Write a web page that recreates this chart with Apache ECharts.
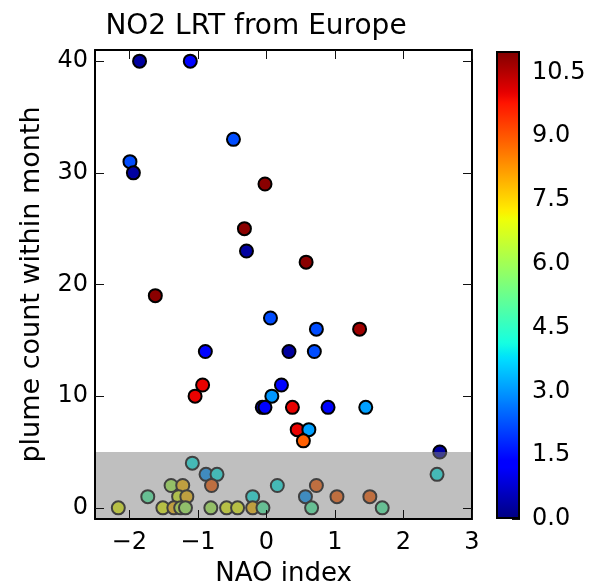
<!DOCTYPE html>
<html>
<head>
<meta charset="utf-8">
<script src="https://cdn.jsdelivr.net/npm/echarts@6/dist/echarts.min.js"></script>
<style>html,body{margin:0;padding:0;background:#fff}#c{width:590px;height:587px}</style>
</head>
<body>
<div id="c"></div>
<script>
// ---- data ----
const naoIndex = [-1.85,-1.11,-0.48,-1.99,-1.94,-0.02,-0.32,-0.29,0.58,-1.62,0.06,0.73,1.36,-0.89,0.33,0.70,-0.93,-1.04,0.22,0.08,-0.06,-0.02,0.38,0.90,1.45,0.45,0.62,0.54,2.53,
  2.49,0.16,0.73,0.57,1.03,1.51,0.66,1.69,-1.08,-0.88,-0.72,-0.80,-1.39,-1.22,-1.73,-1.28,-1.16,-0.20,-2.16,-1.51,-1.35,-1.25,-1.18,-0.81,-0.58,-0.42,-0.20,-0.05];
const plumeCount = [40,40,33,31,30,29,25,23,22,19,17,16,16,14,14,14,11,10,11,10,9,9,9,9,9,7,7,6,5,
  3,2,2,1,1,1,0,0,4,3,3,2,2,2,1,1,1,1,0,0,0,0,0,0,0,0,0,0];
const colorValue = [0.3,1.4,2.2,2.2,0.3,10.9,10.9,0.3,10.9,10.9,2.2,2.2,10.7,1.4,0.3,2.2,10.0,10.0,1.4,3.0,0.5,1.4,10.0,1.4,3.1,10.0,3.1,8.9,0.3,
  4.0,4.0,8.9,3.0,8.9,8.9,4.9,4.9,4.0,3.0,4.0,8.9,6.1,7.8,4.9,6.8,7.8,4.0,7.0,7.0,7.8,6.4,6.0,6.1,7.0,7.0,7.8,4.9];
const xRange = [-2.5, 3];
const yRange = [-1, 41];
const xTicks = [-2,-1,0,1,2,3];
const yTicks = [0,10,20,30,40];
const cRange = [0, 11];
const cTicks = [0,1.5,3,4.5,6,7.5,9,10.5];
const bandRange = [-1, 5];
const titleText = 'NO2 LRT from Europe';
const xName = 'NAO index';
const yName = 'plume count within month';

// ---- jet colormap (matplotlib segment data) ----
const jetSeg = {
  r: [[0,0],[0.35,0],[0.66,1],[0.89,1],[1,0.5]],
  g: [[0,0],[0.125,0],[0.375,1],[0.64,1],[0.91,0],[1,0]],
  b: [[0,0.5],[0.11,1],[0.34,1],[0.65,0],[1,0]]
};
function segInterp(seg, t) {
  for (let i = 1; i < seg.length; i++) {
    if (t <= seg[i][0]) {
      const a = seg[i-1], b = seg[i];
      return a[1] + (b[1]-a[1]) * (t - a[0]) / (b[0] - a[0]);
    }
  }
  return seg[seg.length-1][1];
}
function jet(t) {
  const r = Math.round(255*segInterp(jetSeg.r,t)), g = Math.round(255*segInterp(jetSeg.g,t)), b = Math.round(255*segInterp(jetSeg.b,t));
  return 'rgb(' + r + ',' + g + ',' + b + ')';
}
const N = 128;
const jetColors = [];
for (let i = 0; i < N; i++) jetColors.push(jet(i/(N-1)));
const gradStops = [];
for (let i = 0; i < N; i++) gradStops.push({offset: 1 - i/(N-1), color: jetColors[i]});

const points = naoIndex.map((x, i) => [x, plumeCount[i], colorValue[i]]);

const FONT = 'DejaVu Sans';
const fmtMinus = v => (v < 0 ? '\u2212' + Math.abs(v) : String(v));
const tickStyle = {show: true, inside: true, length: 9, lineStyle: {color: '#111', width: 1}};
const lineStyle = {show: true, onZero: false, lineStyle: {color: '#000', width: 2}};

const chart = echarts.init(document.getElementById('c'), null, {renderer: 'canvas'});
chart.setOption({
  animation: false,
  backgroundColor: '#fff',
  title: {
    text: titleText, left: 251, top: 8, textAlign: 'center',
    textStyle: {fontFamily: FONT, fontSize: 28, fontWeight: 'normal', color: '#000'}
  },
  grid: [
    {left: 95, top: 50, width: 377, height: 469, containLabel: false, outerBoundsMode: 'none'},
    {left: 496, top: 51, width: 24, height: 468, containLabel: false, outerBoundsMode: 'none'}
  ],
  xAxis: [
    {type: 'value', gridIndex: 0, position: 'bottom', min: xRange[0], max: xRange[1], z: 20,
     axisLine: lineStyle, splitLine: {show: false},
     axisTick: Object.assign({customValues: xTicks}, tickStyle),
     axisLabel: {customValues: xTicks, formatter: fmtMinus, fontFamily: FONT, fontSize: 24, color: '#000', margin: 12},
     name: xName, nameLocation: 'middle', nameGap: 42,
     nameTextStyle: {fontFamily: FONT, fontSize: 26, color: '#000'}},
    {type: 'value', gridIndex: 0, position: 'top', min: xRange[0], max: xRange[1], z: 20,
     axisLine: lineStyle, splitLine: {show: false},
     axisTick: Object.assign({customValues: xTicks}, tickStyle),
     axisLabel: {show: false}},
    {type: 'category', gridIndex: 1, data: ['c'], show: false}
  ],
  yAxis: [
    {type: 'value', gridIndex: 0, position: 'left', min: yRange[0], max: yRange[1], z: 20,
     axisLine: lineStyle, splitLine: {show: false},
     axisTick: Object.assign({customValues: yTicks}, tickStyle),
     axisLabel: {customValues: yTicks, fontFamily: FONT, fontSize: 24, color: '#000', margin: 7},
     name: yName, nameLocation: 'middle', nameGap: 50, nameRotate: 90,
     nameTextStyle: {fontFamily: FONT, fontSize: 27, color: '#000'}},
    {type: 'value', gridIndex: 0, position: 'right', min: yRange[0], max: yRange[1], z: 20,
     axisLine: lineStyle, splitLine: {show: false},
     axisTick: Object.assign({customValues: yTicks}, tickStyle),
     axisLabel: {show: false}},
    {type: 'value', gridIndex: 1, position: 'right', min: cRange[0], max: cRange[1],
     axisLine: {show: false}, splitLine: {show: false},
     axisTick: {show: true, inside: true, length: 8, customValues: cTicks, lineStyle: {color: '#111', width: 1}},
     axisLabel: {customValues: cTicks, formatter: v => v.toFixed(1), fontFamily: FONT, fontSize: 24, color: '#000', margin: 12}}
  ],
  visualMap: {
    type: 'continuous', show: false, min: cRange[0], max: cRange[1], dimension: 2,
    seriesIndex: 0, inRange: {color: jetColors}
  },
  series: [
    {type: 'scatter', xAxisIndex: 0, yAxisIndex: 0, data: points, symbolSize: 13, z: 2,
     itemStyle: {borderColor: '#000', borderWidth: 2, opacity: 1}},
    {type: 'scatter', xAxisIndex: 0, yAxisIndex: 0, data: [], z: 5,
     markArea: {silent: true, z: 10, itemStyle: {color: 'rgba(128,128,128,0.5)'},
       data: [[{coord: [xRange[0], bandRange[0]]}, {coord: [xRange[1], bandRange[1]]}]]}},
    {type: 'bar', xAxisIndex: 2, yAxisIndex: 2, data: [cRange[1]], barWidth: '100%', z: 1,
     itemStyle: {color: new echarts.graphic.LinearGradient(0, 0, 0, 1, gradStops), borderColor: '#000', borderWidth: 2}}
  ]
});
</script>
</body>
</html>
